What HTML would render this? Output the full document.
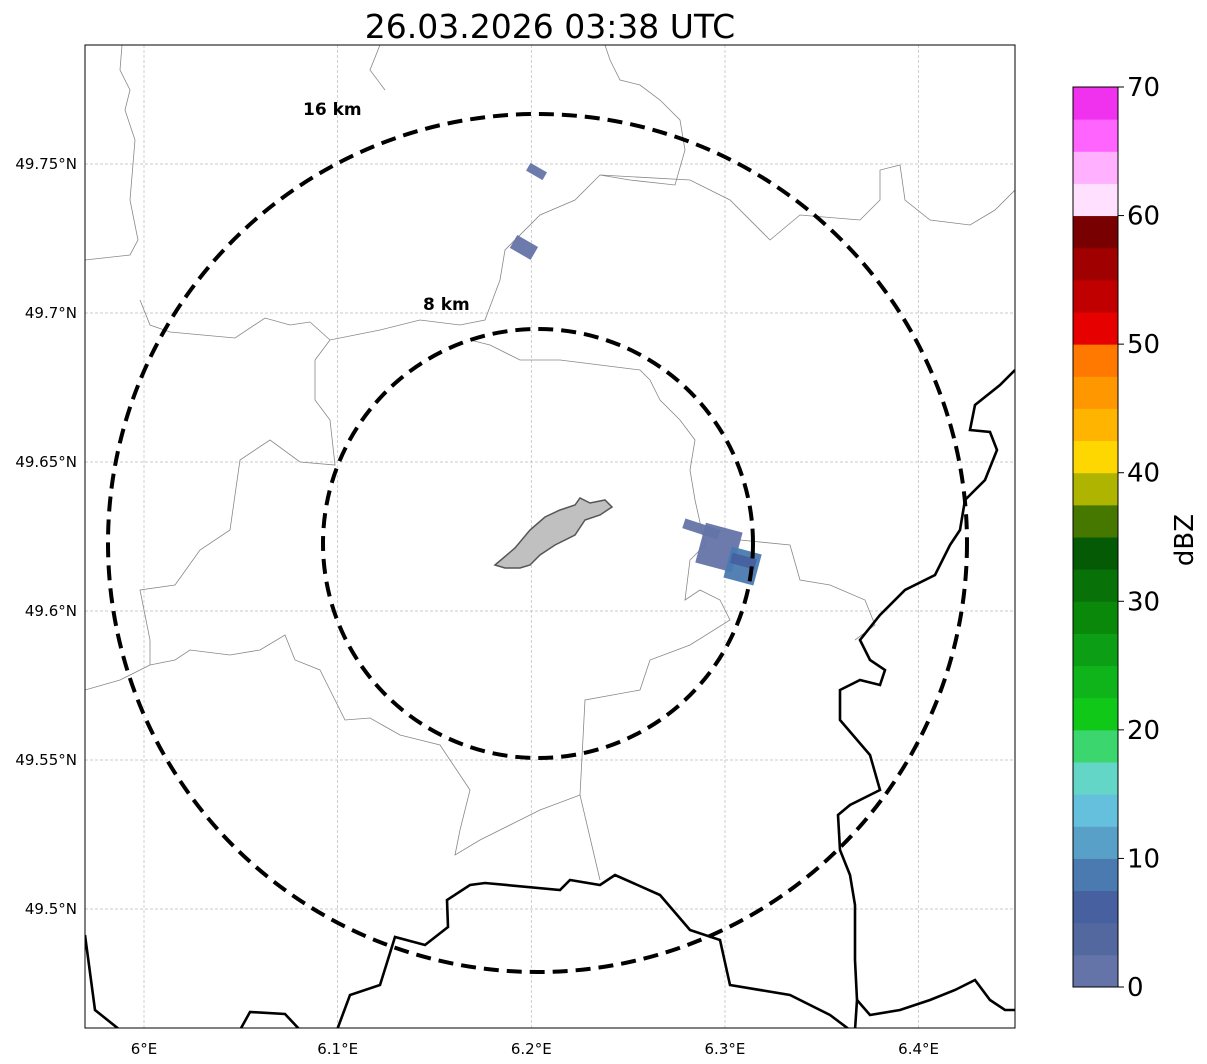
<!DOCTYPE html>
<html><head><meta charset="utf-8"><style>
body{margin:0;background:#fff;font-family:"DejaVu Sans","Liberation Sans",sans-serif}
svg{display:block}
</style></head><body>
<svg id="chart" width="1207" height="1064" viewBox="0 0 1207 1064" xmlns="http://www.w3.org/2000/svg" font-family="DejaVu Sans, Liberation Sans, sans-serif">
<text x="550" y="38" font-size="33" text-anchor="middle">26.03.2026 03:38 UTC</text>
<defs><clipPath id="mapclip"><rect x="85" y="45" width="930" height="983"/></clipPath></defs>
<g id="grid"></g>
<g clip-path="url(#mapclip)">
 <g fill="none" stroke="#888" stroke-width="0.8">
  <path d="M122,45 L120,70 L130,90 L125,110 L135,140 L130,200 L138,240 L130,255 L85,260"/>
  <path d="M605,45 L610,60 L620,80 L640,85 L660,100 L680,120 L685,150 L675,185 L630,180 L600,175 L575,200 L540,215 L505,250 L500,280 L485,320 L460,325 L420,320 L380,330 L330,340 L310,322 L290,325 L265,318 L235,338 L170,332 L150,325 L140,300"/>
  <path d="M380,45 L370,70 L385,90"/>
  <path d="M600,175 L690,180 L730,200 L770,240 L800,215 L860,220 L880,200 L880,170 L900,165 L905,200 L930,220 L970,225 L995,210 L1015,190"/>
  <path d="M330,340 L315,360 L315,400 L330,420 L335,465 L300,462 L270,440 L240,460 L230,530 L200,550 L175,585 L140,590 L150,640 L150,665 L120,680 L85,690"/>
  <path d="M150,665 L175,660 L190,650 L230,655 L260,650 L285,635 L295,660 L320,670 L335,700 L345,720 L370,718 L400,735 L440,745 L470,790 L460,830 L455,855 L480,840 L520,820 L540,810 L580,795 L600,880"/>
  <path d="M580,795 L585,700 L640,690 L650,660 L690,645 L730,620 L720,600 L700,590 L685,600 L690,560 L705,545 L695,500 L690,470 L695,440 L680,420 L660,400 L650,380 L640,370 L600,365 L560,360 L520,360 L490,345 L470,340"/>
  <path d="M740,540 L790,545 L800,580 L830,585 L865,600 L875,625 L855,640"/>
 </g>
 <g fill="none" stroke="#000" stroke-width="2.6">
  <path d="M85,935 L95,1010 L120,1030"/>
  <path d="M240,1030 L250,1012 L285,1014 L300,1030"/>
  <path d="M337,1030 L350,995 L380,985 L395,937 L425,945 L448,927 L447,900 L470,885 L485,883 L560,890 L570,880 L600,885 L615,875 L660,895 L690,930 L720,940 L730,985 L790,995 L830,1015 L850,1030"/>
  <path d="M1015,370 L1000,385 L975,405 L970,430 L990,432 L997,450 L985,480 L965,500 L960,530 L950,545 L935,575 L905,590 L880,615 L860,640 L870,660 L885,670 L880,685 L860,680 L840,690 L840,720 L870,755 L880,790 L850,805 L838,815 L840,850 L850,875 L855,905 L855,960 L857,1000 L855,1030"/>
  <path d="M857,1000 L870,1015 L900,1010 L930,1000 L955,990 L975,980 L990,1000 L1005,1010 L1015,1010"/>
 </g>
 <path d="M495,565 L515,548 L530,530 L545,517 L560,510 L575,505 L580,498 L590,503 L605,500 L612,507 L600,515 L585,520 L575,535 L555,545 L540,555 L530,565 L520,568 L505,568 Z" fill="#c0c0c0" stroke="#555" stroke-width="1.5"/>
 <g id="echoes"></g>
 <g fill="none" stroke="#000" stroke-width="4" stroke-dasharray="15,8">
  <ellipse cx="537.5" cy="543" rx="429.5" ry="429"/>
  <ellipse cx="538" cy="543.5" rx="215" ry="214.5"/>
 </g>
</g>
<text x="303" y="115" font-size="17" font-weight="bold">16 km</text>
<text x="423" y="310" font-size="17" font-weight="bold">8 km</text>
<rect x="85" y="45" width="930" height="983" fill="none" stroke="#000" stroke-width="1"/>
<g id="cbar"></g>
<text x="1193" y="540" font-size="26" text-anchor="middle" transform="rotate(-90 1193 540)">dBZ</text>
<script>
const lonTicks=[6.0,6.1,6.2,6.3,6.4];
const lonLabels=["6°E","6.1°E","6.2°E","6.3°E","6.4°E"];
const latTicks=[49.75,49.7,49.65,49.6,49.55,49.5];
const latLabels=["49.75°N","49.7°N","49.65°N","49.6°N","49.55°N","49.5°N"];
const cbarColors=["#6474a8","#5468a0","#4660a0","#4a7ab0","#58a0c8","#64c0dc","#64d6c8","#3cd66e","#10c818","#0fb31a","#0c9e14","#0a880a","#087208","#055a05","#467800","#afb400","#ffd700","#ffb400","#ff9800","#ff7800","#e60000","#c00000","#a00000","#780000","#ffe0ff","#ffb0ff","#ff64ff","#f032ee"];
const cbarTicks=[0,10,20,30,40,50,60,70];
const echoLon=[[6.1978,6.2076],[6.1900,6.2024],[6.2783,6.2974],[6.2871,6.3067],[6.3011,6.3171],[6.3030,6.3160]];
const echoLat=[[49.7460,49.7490],[49.7195,49.7245],[49.6258,49.6292],[49.6144,49.6282],[49.6097,49.6205],[49.6150,49.6185]];
const echoDbz=[1,2,1,1,8,6];
const echoRot=[30,30,18,15,15,15];
const NS="http://www.w3.org/2000/svg";
const xs=v=>144+(v-6.0)*1936.5, ys=v=>909-(v-49.5)*2980;
const grid=document.getElementById('grid');
function mk(t,a,p){const e=document.createElementNS(NS,t);for(const k in a)e.setAttribute(k,a[k]);p.appendChild(e);return e;}
lonTicks.forEach((v,i)=>{const x=xs(v);
 const l=mk('line',{x1:x,x2:x,y1:45,y2:1028,stroke:'#bbb','stroke-width':0.7,'stroke-dasharray':'3,2'},grid);
 
 
 const t=mk('text',{x:x,y:1054,'font-size':15,'text-anchor':'middle'},grid);t.textContent=lonLabels[i];
 
 });
latTicks.forEach((v,i)=>{const y=ys(v);
 const l=mk('line',{x1:85,x2:1015,y1:y,y2:y,stroke:'#bbb','stroke-width':0.7,'stroke-dasharray':'3,2'},grid);
 
 
 const t=mk('text',{x:77,y:y+5,'font-size':15,'text-anchor':'end'},grid);t.textContent=latLabels[i];
 
 });
const cb=document.getElementById('cbar');
const cy=v=>987-v*(900/70), step=2.5;
cbarColors.forEach((c,i)=>{const y0=cy(i*step),y1=cy((i+1)*step);
 const r=mk('rect',{x:1073,y:y1,width:45,height:y0-y1+0.5,fill:c},cb);
 
 });
mk('rect',{x:1073,y:87,width:45,height:900,fill:'none',stroke:'#000','stroke-width':1},cb);
cbarTicks.forEach(v=>{const y=cy(v);
 mk('line',{x1:1118,x2:1124,y1:y,y2:y,stroke:'#000'},cb);
 const t=mk('text',{x:1127,y:y+9,'font-size':26},cb);t.textContent=v;
 
 });
const eg=document.getElementById('echoes');
echoLon.forEach((lo,i)=>{const la=echoLat[i];
 const x0=xs(lo[0]),x1=xs(lo[1]),y0=ys(la[1]),y1=ys(la[0]);
 const cx=(x0+x1)/2,cyy=(y0+y1)/2;
 const r=mk('rect',{x:x0,y:y0,width:x1-x0,height:y1-y0,fill:cbarColors[Math.floor(echoDbz[i]/step)],opacity:0.95,transform:`rotate(${echoRot[i]} ${cx} ${cyy})`},eg);
 
 });
</script>
</svg>
</body></html>
